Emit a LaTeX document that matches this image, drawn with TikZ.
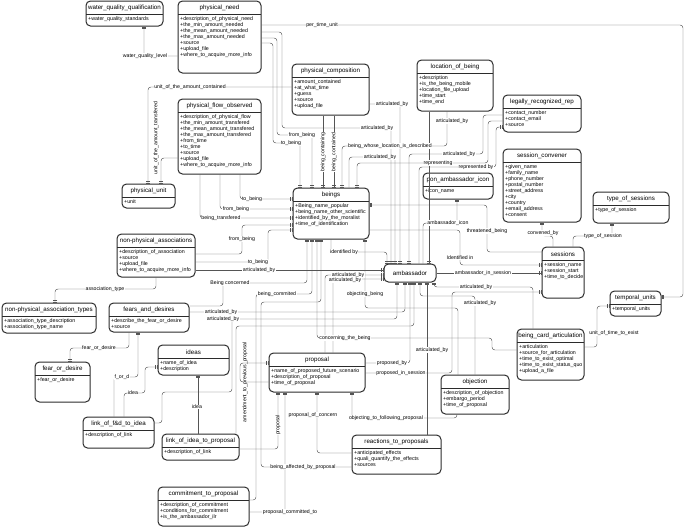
\documentclass[tikz,border=0pt]{standalone}
\usepackage{fontspec}
\setmainfont{Liberation Sans}
\usepackage{tikz}
\usetikzlibrary{arrows.meta,fit}
\definecolor{BoxLine}{HTML}{2B2B2B}
\definecolor{EdgeGray}{HTML}{555555}

% entity: name, x1, y1, x2, y2, title, attributes
\newcommand{\entity}[7]{%
  \node[entbox, fit={(#2,#3) (#4,#5)}] (#1) {};
  \node[enttitle] (#1-title) at ({(#2+#4)/2},{#3+7}) {#6};
  \draw[entrule] (#2,{#3+13.5}) -- (#4,{#3+13.5});
  \node[entattr] (#1-attr) at ({#2+1.5},{#3+14.5}) {#7};
}

\begin{document}
\begin{tikzpicture}[x=1pt, y=-1pt, every node/.style={font=\fontsize{5.2}{6}\selectfont}]
  \tikzstyle{entbox}=[draw=BoxLine, line width=1pt, rounded corners=4.5pt, inner sep=0pt]
  \tikzstyle{enttitle}=[font=\fontsize{6.2}{7}\selectfont, inner sep=0pt]
  \tikzstyle{entrule}=[draw=BoxLine, line width=0.7pt]
  \tikzstyle{entattr}=[anchor=north west, align=left, inner sep=0.5pt, font=\fontsize{5.3}{6}\selectfont]
  \tikzstyle{rel}=[draw=EdgeGray, line width=0.45pt, rounded corners=3pt,
    -{Bar[width=4pt,sep=1.2pt]Bar[width=4pt]}]
  \tikzstyle{lbl}=[fill=white, inner sep=0.5pt]
  \tikzstyle{vlbl}=[inner sep=0.5pt, rotate=90]
  \useasboundingbox (0,0) rectangle (685,528);

  % entities
  \entity{wqq}{86}{1}{163}{26}{water\_quality\_qualification}{+water\_quality\_standards}
  \entity{pneed}{178}{1}{261}{73}{physical\_need}{+description\_of\_physical\_need\\+the\_min\_amount\_needed\\+the\_mean\_amount\_needed\\+the\_max\_amount\_needed\\+source\\+upload\_file\\+where\_to\_acquire\_more\_info}
  \entity{pcomp}{292}{64}{369}{115}{physical\_composition}{+amount\_contained\\+at\_what\_time\\+guess\\+source\\+upload\_file}
  \entity{loc}{417}{60}{493}{111}{location\_of\_being}{+description\\+is\_the\_being\_mobile\\+location\_file\_upload\\+time\_start\\+time\_end}
  \entity{lrep}{503}{95}{581}{132}{legally\_recognized\_rep}{+contact\_number\\+contact\_email\\+source}
  \entity{conv}{503}{149}{581}{222}{session\_convener}{+given\_name\\+family\_name\\+phone\_number\\+postal\_number\\+street\_address\\+city\\+country\\+email\_address\\+consent}
  \entity{tsess}{593}{192}{669}{223}{type\_of\_sessions}{+type\_of\_session}
  \entity{sess}{542}{247}{584}{298}{sessions}{+session\_name\\+session\_start\\+time\_to\_decide}
  \entity{tunits}{610}{291}{661}{316}{temporal\_units}{+temporal\_units}
  \entity{bca}{517}{329}{584}{380}{being\_card\_articulation}{+articulation\\+source\_for\_articulation\\+time\_to\_exist\_optimal\\+time\_to\_exist\_status\_quo\\+upload\_a\_file}
  \entity{icon}{423}{173}{493}{199}{pon\_ambassador\_icon}{+icon\_name}
  \entity{beings}{293}{188}{369}{239}{beings}{+Being\_name\_popular\\+being\_name\_other\_scientific\\+identified\_by\_the\_moralist\\+time\_of\_identification}
  \node[entbox, fit={(384,264) (436,282)}] (amb) {};
  \node[enttitle] (amb-title) at (410,273) {ambassador};
  \entity{pflow}{178}{99}{261}{174}{physical\_flow\_observed}{+description\_of\_physical\_flow\\+the\_min\_amount\_transfered\\+the\_mean\_amount\_transfered\\+the\_max\_amount\_transfered\\+from\_time\\+to\_time\\+source\\+upload\_file\\+where\_to\_acquire\_more\_info}
  \entity{punit}{122}{184}{175}{208}{physical\_unit}{+unit}
  \entity{nphys}{117}{234}{195}{277}{non-physical\_associations}{+description\_of\_association\\+source\\+upload\_file\\+where\_to\_acquire\_more\_info}
  \entity{nptypes}{2}{303}{96}{333}{non-physical\_association\_types}{+association\_type\_description\\+association\_type\_name}
  \entity{fad}{109}{303}{189}{332}{fears\_and\_desires}{+describe\_the\_fear\_or\_desire\\+source}
  \entity{fod}{35}{362}{90}{402}{fear\_or\_desire}{+fear\_or\_desire}
  \entity{ideas}{158}{345}{229}{375}{ideas}{+name\_of\_idea\\+description}
  \entity{lfdi}{83}{417}{154}{448}{link\_of\_f\&d\_to\_idea}{+description\_of\_link}
  \entity{lip}{162}{434}{239}{460}{link\_of\_idea\_to\_proposal}{+description\_of\_link}
  \entity{commit}{158}{487}{249}{526}{commitment\_to\_proposal}{+description\_of\_commitment\\+conditions\_for\_commitment\\+is\_the\_ambassador\_ilr}
  \entity{prop}{269}{353}{365}{392}{proposal}{+name\_of\_proposed\_future\_scenario\\+description\_of\_proposal\\+time\_of\_proposal}
  \entity{obj}{441}{375}{509}{414}{objection}{+description\_of\_objection\\+embargo\_period\\+time\_of\_proposal}
  \entity{react}{352}{435}{441}{474}{reactions\_to\_proposals}{+anticipated\_effects\\+quali\_quantify\_the\_effects\\+sources}

  % physical_need
  \draw[rel] (pneed.west |- 0,56) -| (wqq.south -| 144,0);
  \draw[rel] (pneed.east |- 0,25) -- (683,25) |- (tunits.east |- 0,297);
  \draw[rel] (pneed.east |- 0,32) -| (282,128) -| (amb.north -| 391,0);
  \draw[rel] (pneed.east |- 0,38) -| (277,135) -| (beings.north -| 312,0);
  \draw[rel] (pneed.east |- 0,43) -| (273,143) -| (beings.north -| 300,0);
  % physical_composition
  \draw[rel] (pcomp.west |- 0,87) -| (punit.north -| 148,0);
  \draw[rel] (pcomp.south -| 323,0) -- (beings.north -| 323,0);
  \draw[rel] (pcomp.south -| 334,0) -- (beings.north -| 334,0);
  \draw[rel] (pcomp.east |- 0,104) -| (amb.north -| 400,0);
  % physical_flow_observed
  \draw[rel] (pflow.west |- 0,158) -| (punit.north -| 161,0);
  \draw[rel] (pflow.south -| 240,0) |- (beings.west |- 0,199);
  \draw[rel] (pflow.south -| 220,0) |- (beings.west |- 0,209);
  \draw[rel] (pflow.south -| 200,0) |- (beings.west |- 0,218);
  % location_of_being, legally_recognized_rep
  \draw[rel] (loc.south -| 447,0) |- (342,146) -- (beings.north -| 342,0);
  \draw[rel] (loc.south -| 429,0) -- (amb.north -| 429,0);
  \draw[rel] (lrep.west |- 0,115) -| (483,154) -| (amb.north -| 409,0);
  \draw[rel] (lrep.west |- 0,121) -| (488,163) -| (beings.north -| 357,0);
  \draw[rel] (amb.north -| 419,0) |- (496,167) |- (lrep.west |- 0,127);
  % beings, ambassador
  \draw[rel] (beings.north -| 349,0) |- (395,157) -- (amb.north -| 395,0);
  \draw[rel] (beings.south -| 331,0) |- (387,252) -- (amb.north -| 387,0);
  \draw[rel] (amb.north -| 423,0) |- (457,223) -- (icon.south -| 457,0);
  % sessions
  \draw[rel] (sess.west |- 0,252) -| (487,205) -- (beings.east |- 0,205);
  \draw[rel] (beings.east |- 0,230) -| (460,265) -- (sess.west |- 0,265);
  \draw[rel] (amb.east |- 0,273) -- (sess.west |- 0,273);
  \draw[rel] (sess.north -| 553,0) |- (542,236) -- (conv.south -| 542,0);
  \draw[rel] (sess.north -| 573,0) |- (612,236) -- (tsess.south -| 612,0);
  % being_card_articulation
  \draw[rel] (bca.east |- 0,347) -| (597,306) -- (tunits.west |- 0,306);
  \draw[rel] (bca.north -| 533,0) |- (434,287) -- (amb.south -| 434,0);
  \draw[rel] (bca.west |- 0,350) -| (492,338) -| (beings.south -| 317,0);
  % objection
  \draw[rel] (obj.north -| 475,0) |- (420,296) -- (amb.south -| 420,0);
  \draw[rel] (obj.north -| 458,0) |- (365,308) -- (beings.south -| 365,0);
  \draw[rel] (obj.south -| 457,0) |- (352,418) -- (prop.south -| 352,0);
  % non-physical_associations
  \draw[rel] (nphys.east |- 0,254) -| (242,225) -- (beings.west |- 0,225);
  \draw[rel] (nphys.east |- 0,262) -| (268,230) -- (beings.west |- 0,230);
  \draw[rel] (nphys.east |- 0,270) -- (amb.west |- 0,270);
  \draw[rel] (nphys.south -| 156,0) |- (55,289) -- (nptypes.north -| 55,0);
  % fears_and_desires, links
  \draw[rel] (fad.south -| 129,0) |- (70,348) -- (fod.north -| 70,0);
  \draw[rel] (fad.east |- 0,306) -| (223,283) -| (beings.south -| 307,0);
  \draw[rel] (fad.east |- 0,312) -| (amb.south -| 405,0);
  \draw[rel] (lfdi.north -| 114,0) |- (138,377) -- (fad.south -| 138,0);
  \draw[rel] (lfdi.north -| 124,0) |- (145,393) |- (ideas.west |- 0,367);
  \draw[rel] (lfdi.east |- 0,423) -| (162,392) -| (232,319) -| (amb.south -| 397,0);
  \draw[rel] (lip.north -| 198,0) -- (ideas.south -| 198,0);
  \draw[rel] (lip.east |- 0,449) -| (prop.south -| 278,0);
  \draw[rel] (lip.north -| 236,0) |- (414,326) -- (amb.south -| 414,0);
  % proposal, reactions, commitment
  \draw[rel] (prop.west |- 0,382) -| (240,363) -- (prop.west |- 0,363);
  \draw[rel] (prop.east |- 0,363) -| (amb.south -| 410,0);
  \draw[rel] (prop.east |- 0,373) -| (452,292) -- (sess.west |- 0,292);
  \draw[rel] (prop.north -| 325,0) |- (amb.west |- 0,275);
  \draw[rel] (prop.north -| 333,0) |- (amb.west |- 0,279);
  \draw[rel] (react.west |- 0,453) -| (prop.south -| 317,0);
  \draw[rel] (react.west |- 0,467) -| (261,302) -| (beings.south -| 321,0);
  \draw[rel] (react.north -| 427,0) -- (amb.south -| 427,0);
  \draw[rel] (commit.east |- 0,512) -| (prop.south -| 285,0);
  \draw[rel] (commit.east |- 0,500) -| (256,294) -| (beings.south -| 312,0);

  % labels
  \node[lbl] (l-wql) at (145,56) {water\_quality\_level};
  \node[lbl] (l-ptu) at (322,25) {per\_time\_unit};
  \node[lbl] (l-uac) at (190,87) {unit\_of\_the\_amount\_contained};
  \node[vlbl] (l-uat) at (156,138) {unit\_of\_the\_amount\_transfered};
  \node[lbl] (l-pn-art) at (377,128) {articulated\_by};
  \node[lbl] (l-pn-from) at (302,135) {from\_being};
  \node[lbl] (l-pn-to) at (291,143) {to\_being};
  \node[vlbl, fill=white] (l-bcing) at (323,152) {being\_containing};
  \node[vlbl, fill=white] (l-bced) at (334,152) {being\_contained};
  \node[lbl] (l-pc-art) at (392,104) {articulated\_by};
  \node[lbl] (l-bwl) at (390,146) {being\_whose\_location\_is\_described};
  \node[lbl] (l-loc-art) at (452,121) {articulated\_by};
  \node[lbl] (l-be-art) at (380,157) {articulated\_by};
  \node[lbl] (l-lr-art) at (459,154) {articulated\_by};
  \node[lbl] (l-repg) at (438,163) {representing};
  \node[lbl] (l-repd) at (476,167) {represented by};
  \node[lbl] (l-icon) at (448,223) {ambassador\_icon};
  \node[lbl] (l-thr) at (487,231) {threatened\_being};
  \node[lbl] (l-idin) at (460,258) {Identified in};
  \node[lbl] (l-ais) at (483,273) {ambassador\_in\_session};
  \node[lbl] (l-conv) at (543,233) {convened\_by};
  \node[lbl] (l-tos) at (603,236) {type\_of\_session};
  \node[lbl] (l-utte) at (614,333) {unit\_of\_time\_to\_exist};
  \node[lbl] (l-bca-art) at (476,287) {articulated\_by};
  \node[lbl] (l-obj-art) at (480,303) {articulated\_by};
  \node[lbl] (l-ctb) at (345,338) {concerning\_the\_being};
  \node[lbl] (l-objb) at (365,294) {objecting\_being};
  \node[lbl] (l-idby) at (344,252) {identified by};
  \node[lbl] (l-np-art) at (259,270) {articulated\_by};
  \node[lbl] (l-np-from) at (242,239) {from\_being};
  \node[lbl] (l-np-to) at (258,262) {to\_being};
  \node[lbl] (l-pf-to) at (252,199) {to\_being};
  \node[lbl] (l-pf-from) at (236,209) {from\_being};
  \node[lbl] (l-pf-tr) at (221,218) {being\_transfered};
  \node[lbl] (l-at) at (105,289) {association\_type};
  \node[lbl] (l-fod) at (99,348) {fear\_or\_desire};
  \node[lbl] (l-ford) at (122,377) {f\_or\_d};
  \node[lbl] (l-idea1) at (133,393) {idea};
  \node[lbl] (l-idea2) at (197,407) {idea};
  \node[vlbl, fill=white] (l-prop) at (278,425) {proposal};
  \node[vlbl] (l-amend) at (245,382) {amendment\_to\_previous\_proposal};
  \node[lbl] (l-poc) at (313,415) {proposal\_of\_concern};
  \node[lbl] (l-babp) at (303,467) {being\_affected\_by\_proposal};
  \node[lbl] (l-pct) at (290,512) {proposal\_committed\_to};
  \node[lbl] (l-bcom) at (277,294) {being\_commited};
  \node[lbl] (l-bconc) at (230,283) {Being concerned};
  \node[lbl] (l-fad-art1) at (221,312) {articulated\_by};
  \node[lbl] (l-fad-art2) at (223,319) {articulated\_by};
  \node[lbl] (l-pby) at (392,363) {proposed\_by};
  \node[lbl] (l-pis) at (401,373) {proposed\_in\_session};
  \node[lbl] (l-otfp) at (386,418) {objecting\_to\_following\_proposal};
  \node[lbl] (l-re-art) at (432,350) {articulated\_by};
  \node[lbl] (l-pr-art1) at (348,275) {articulated\_by};
  \node[lbl] (l-pr-art2) at (345,280) {articulated\_by};
\end{tikzpicture}
\end{document}
